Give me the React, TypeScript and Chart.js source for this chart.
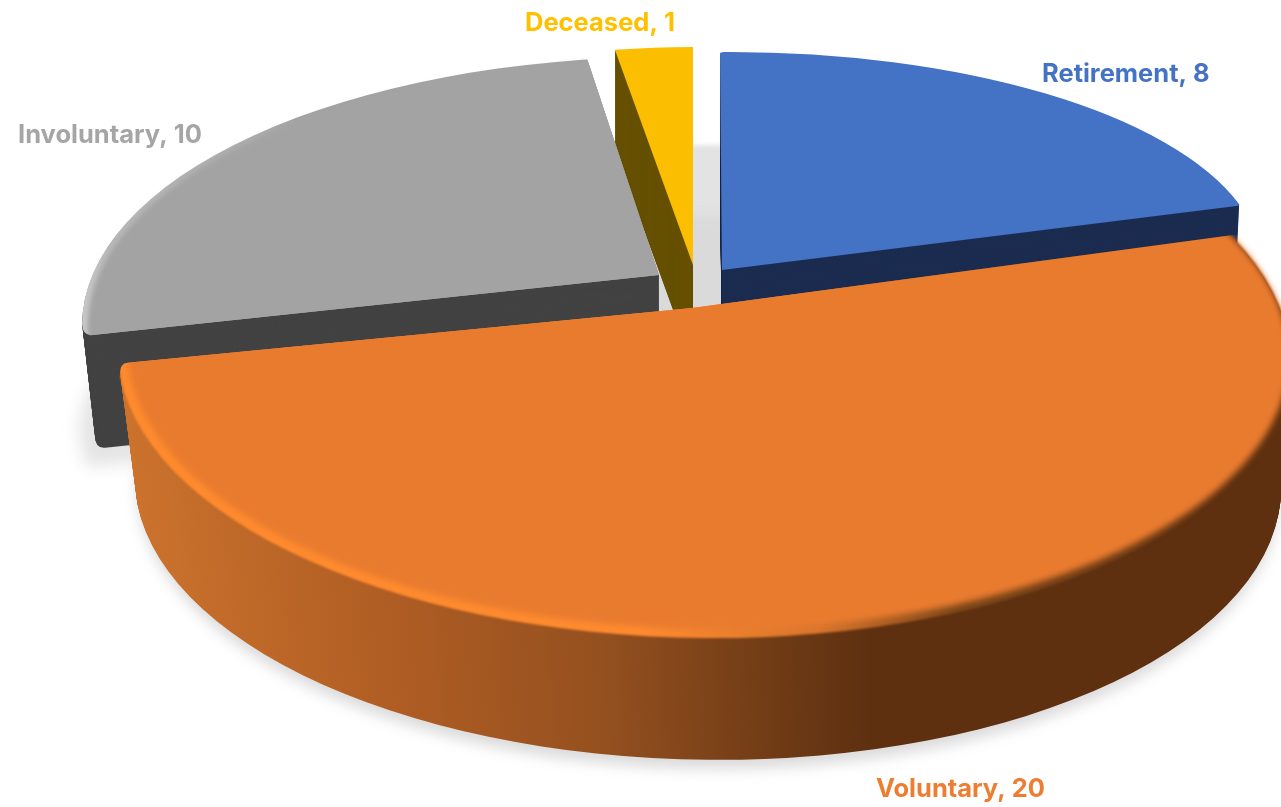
import React, { useEffect, useRef } from "react";
import { Chart, registerables } from "chart.js";

Chart.register(...registerables);

const categories = ["Retirement", "Voluntary", "Involuntary", "Deceased"];
const values = [8, 20, 10, 1];
const topColors = ["#4472C4", "#E97B2F", "#A3A3A3", "#FBBE00"];
const wallColors = ["#1B2C50", "#5F3010", "#424242", "#665000"];
const labelColors = ["#4472C4", "#ED7D31", "#A5A5A5", "#FFC000"];
const cornerRadii = [3, 0, 0, 0];

// Affine projection for the two back slices
const projections: any[] = [
  { vx: 722, vy: 270, rx: 540, ry: 218, sx: 2, sy: -4, depth: 110, shrink: 0.01 },
  null,
  null,
  { vx: 693, vy: 265, rx: 487, ry: 218, sx: 0, sy: 0, depth: 100, shrink: 0 },
];
// Perspective ellipses for the two large slices
const lenses: any[] = [
  null,
  { vx: 692, vy: 308, cx: 704, cy: 355, a: 586, b: 283, tiltY: 5, shear: 22, skewY: -5, depth: 128, shrink: 0.022, drift: 4, round: 9, roundAt: "end" },
  { vx: 659, vy: 275, cx: 668, cy: 325, a: 586, b: 268, tiltY: 0, shear: -12, skewY: -11, depth: 114, shrink: 0.022, drift: 0, round: 10, roundAt: "start" },
  null,
];
const tilt = 0.209;
const widthScale = 604;
const heightScale = 261;

const drawOrder = [3, 2, 0, 1];
const labelSpots = [
  { x: 1042, y: 82 },
  { x: 876, y: 797 },
  { x: 18, y: 143 },
  { x: 525, y: 31 },
];

type P = { vx: number; vy: number; rx: number; ry: number; sx: number; sy: number };

function withProjection(ctx: CanvasRenderingContext2D, arc: any, p: P, fn: () => void) {
  const R = arc.outerRadius;
  const a = p.rx / R, b = p.sy / R, c = p.sx / R, d = p.ry / R;
  ctx.save();
  ctx.transform(a, b, c, d, p.vx - a * arc.x - c * arc.y, p.vy - b * arc.x - d * arc.y);
  fn();
  ctx.restore();
}

function paint(ctx: CanvasRenderingContext2D, arc: any, color: any, extra: any = {}) {
  const ghost = Object.create(arc);
  ghost.options = { ...arc.options, backgroundColor: color, borderWidth: 0, ...(extra.options || {}) };
  Object.keys(extra).forEach((k) => {
    if (k !== "options") ghost[k] = extra[k];
  });
  arc.draw.call(ghost, ctx);
}

const wholeDisc = { startAngle: 0, endAngle: Math.PI * 2, circumference: Math.PI * 2, options: { borderRadius: 0 } };

function xGradient(ctx: CanvasRenderingContext2D, arc: any, p: P, stops: [number, string][]) {
  const toLib = (x: number) => arc.x + ((x - p.vx) / p.rx) * arc.outerRadius;
  const g = ctx.createLinearGradient(toLib(stops[0][0]), 0, toLib(stops[stops.length - 1][0]), 0);
  const span = stops[stops.length - 1][0] - stops[0][0];
  stops.forEach(([x, col]) => g.addColorStop((x - stops[0][0]) / span, col));
  return g;
}

// Direction on screen of a spoke at the given library angle, seen in perspective
function spoke(angle: number, L: any) {
  const ux = Math.cos(angle), uy = Math.sin(angle);
  const w = 1 - tilt * uy;
  return { x: (widthScale * ux + L.shear * uy) / w, y: (L.skewY * ux + heightScale * uy) / w };
}

// Ellipse parameter where the ray from v along dir leaves the tilted ellipse
function hit(vx: number, vy: number, dir: { x: number; y: number }, cx: number, cy: number, a: number, b: number, ty: number) {
  const ox = (vx - cx) / a, dx = dir.x / a;
  const oy = (vy - cy - ty * ox) / b, dy = (dir.y - ty * dx) / b;
  const A = dx * dx + dy * dy, B = ox * dx + oy * dy, C = ox * ox + oy * oy - 1;
  const t = (-B + Math.sqrt(B * B - A * C)) / A;
  return Math.atan2(oy + dy * t, ox + dx * t);
}

function clipSector(ctx: CanvasRenderingContext2D, arc: any, L: any, s: number, d: number) {
  const vx = L.vx, vy = L.vy + d;
  const cx = L.cx + (d / L.depth) * L.drift, cy = L.cy + d, a = L.a * s, b = L.b * s, ty = L.tiltY;
  const d1 = spoke(arc.startAngle, L), d2 = spoke(arc.endAngle, L);
  const f1 = hit(vx, vy, d1, cx, cy, a, b, ty);
  let f2 = hit(vx, vy, d2, cx, cy, a, b, ty);
  while (f2 < f1) f2 += Math.PI * 2;
  const E = (f: number, k = 1) => ({
    x: cx + a * k * Math.cos(f),
    y: cy + b * k * Math.sin(f) + ty * k * Math.cos(f),
  });
  const toward = (pt: { x: number; y: number }) => {
    const len = Math.hypot(vx - pt.x, vy - pt.y);
    return { x: pt.x + ((vx - pt.x) / len) * L.round, y: pt.y + ((vy - pt.y) / len) * L.round };
  };
  const delta = (L.round * 1.4) / 300;
  ctx.beginPath();
  ctx.moveTo(vx, vy);
  let from = f1, to = f2;
  if (L.roundAt === "start") {
    const P1 = E(f1), A1 = toward(P1), Q1 = E(f1 + delta), far1 = E(f1 + delta, 3);
    ctx.lineTo(A1.x, A1.y);
    ctx.quadraticCurveTo(P1.x, P1.y, Q1.x, Q1.y);
    ctx.lineTo(far1.x, far1.y);
    from = f1 + delta;
  } else {
    ctx.lineTo(vx + d1.x * 3, vy + d1.y * 3);
  }
  if (L.roundAt === "end") to = f2 - delta;
  for (let f = from; f < to; f += 0.2) {
    const o = E(f, 3);
    ctx.lineTo(o.x, o.y);
  }
  if (L.roundAt === "end") {
    const P2 = E(f2), A2 = toward(P2), Q2 = E(f2 - delta), far2 = E(f2 - delta, 3);
    ctx.lineTo(far2.x, far2.y);
    ctx.lineTo(Q2.x, Q2.y);
    ctx.quadraticCurveTo(P2.x, P2.y, A2.x, A2.y);
  } else {
    ctx.lineTo(vx + d2.x * 3, vy + d2.y * 3);
  }
  ctx.closePath();
  ctx.clip();
}

const pie3d = {
  id: "pie3d",
  beforeDatasetsDraw(chart: any) {
    const ctx: CanvasRenderingContext2D = chart.ctx;
    const arcs = chart.getDatasetMeta(0).data;

    // floor shadow
    ctx.save();
    ctx.filter = "blur(2px)";
    withProjection(ctx, arcs[0], { vx: 706, vy: 365, rx: 480, ry: 220, sx: 0, sy: 0 }, () => {
      paint(ctx, arcs[0], "#E3E3E3", wholeDisc);
    });
    ctx.filter = "blur(8px)";
    withProjection(ctx, arcs[2], { vx: 659, vy: 403, rx: 579, ry: 223, sx: -20, sy: -20 }, () => {
      paint(ctx, arcs[2], "#E4E4E4");
    });
    ctx.filter = "blur(7px)";
    {
      const L = lenses[1];
      withProjection(ctx, arcs[1], { vx: L.cx + L.drift, vy: L.cy + L.depth + 9, rx: L.a * (1 - L.shrink) - 2, ry: L.b * (1 - L.shrink), sx: 0, sy: L.tiltY }, () => {
        paint(ctx, arcs[1], "#DADADA", wholeDisc);
      });
    }
    ctx.restore();

    drawOrder.forEach((i) => {
      const arc = arcs[i];
      const L = lenses[i];
      if (L) {
        const base = { vx: L.cx, vy: L.cy, rx: L.a, ry: L.b, sx: 0, sy: L.tiltY };
        const wall =
          i === 1
            ? xGradient(ctx, arc, base, [
                [125, "#CB722D"], [400, "#AE5C23"], [600, "#94501F"], [800, "#6A3814"], [870, "#5F3010"], [1290, "#5F3010"],
              ])
            : wallColors[i];
        for (let d = L.depth; d > 0; d--) {
          const s = 1 - (d / L.depth) * L.shrink;
          ctx.save();
          clipSector(ctx, arc, L, s, d);
          withProjection(
            ctx, arc,
            { ...base, vx: L.cx + (d / L.depth) * L.drift, vy: L.cy + d, rx: L.a * s, ry: L.b * s },
            () => paint(ctx, arc, wall, wholeDisc),
          );
          ctx.restore();
        }
        ctx.save();
        clipSector(ctx, arc, L, 1, 0);
        if (i === 1) {
          const rim = xGradient(ctx, arc, base, [
            [118, "#FF8B2E"], [640, "#FF8B30"], [820, "#D8752C"], [960, "#7A4518"], [1290, "#5F3010"],
          ]);
          ctx.filter = "blur(1px)";
          withProjection(ctx, arc, base, () => paint(ctx, arc, rim, wholeDisc));
          ctx.filter = "blur(3px)";
          withProjection(ctx, arc, { ...base, vx: L.cx + 4, vy: L.cy - 3, rx: L.a - 5, ry: L.b - 6 }, () =>
            paint(ctx, arc, topColors[i], wholeDisc),
          );
          ctx.filter = "none";
        } else {
          const rim = xGradient(ctx, arc, base, [[82, "#C8C8C8"], [110, "#B8B8B8"], [260, "#ABABAB"], [300, "#A3A3A3"], [700, "#A3A3A3"]]);
          withProjection(ctx, arc, base, () => paint(ctx, arc, rim, wholeDisc));
          ctx.filter = "blur(2px)";
          withProjection(ctx, arc, { ...base, vx: L.cx + 3, vy: L.cy + 1, rx: L.a - 3, ry: L.b - 2 }, () =>
            paint(ctx, arc, topColors[i], wholeDisc),
          );
          ctx.filter = "none";
        }
        ctx.restore();
      } else {
        const p = projections[i];
        for (let d = p.depth; d > 0; d--) {
          const s = 1 - (d / p.depth) * p.shrink;
          withProjection(ctx, arc, { ...p, vy: p.vy + d, rx: p.rx * s, ry: p.ry * s }, () => paint(ctx, arc, wallColors[i]));
        }
        withProjection(ctx, arc, p, () => paint(ctx, arc, topColors[i]));
      }
    });
    return false;
  },
  afterDraw(chart: any) {
    const ctx: CanvasRenderingContext2D = chart.ctx;
    ctx.save();
    ctx.font = "700 25.5px Inter";
    ctx.textAlign = "left";
    ctx.textBaseline = "alphabetic";
    chart.data.labels.forEach((name: string, i: number) => {
      ctx.fillStyle = labelColors[i];
      ctx.fillText(`${name}, ${chart.data.datasets[0].data[i]}`, labelSpots[i].x, labelSpots[i].y);
    });
    ctx.restore();
  },
};

export default function App() {
  const ref = useRef<HTMLCanvasElement>(null);
  useEffect(() => {
    const chart = new Chart(ref.current!, {
      type: "pie",
      data: {
        labels: categories,
        datasets: [{ data: values, backgroundColor: topColors, borderWidth: 0, borderRadius: cornerRadii }],
      },
      options: {
        responsive: false,
        animation: false,
        layout: { padding: 0 },
        plugins: { legend: { display: false }, tooltip: { enabled: false } },
      },
      plugins: [pie3d],
    } as any);
    return () => chart.destroy();
  }, []);
  return (
    <div style={{ position: "fixed", left: 0, top: 0, width: 1281, height: 807, background: "#fff", overflow: "hidden" }}>
      <canvas ref={ref} width={1281} height={807} style={{ display: "block" }} />
    </div>
  );
}
